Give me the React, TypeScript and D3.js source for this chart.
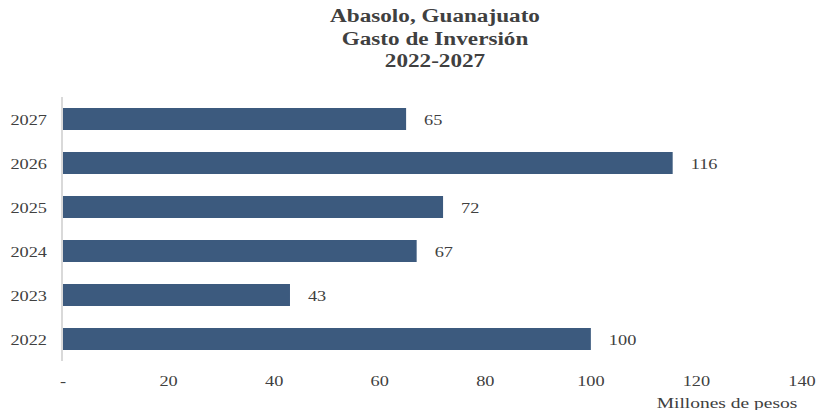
import React from "react";
import * as d3 from "d3";

const years = ["2027", "2026", "2025", "2024", "2023", "2022"];
const values = [65, 115.5, 72, 67, 43, 100];
const valueLabels = ["65", "116", "72", "67", "43", "100"];
const xTicks = [0, 20, 40, 60, 80, 100, 120, 140];
const titleLines = ["Abasolo, Guanajuato", "Gasto de Inversión", "2022-2027"];

const font = "'Liberation Serif', 'Times New Roman', serif";

function T({ x, y, anchor = "start", sx = 1.22, size = 15, bold = false, children }: any) {
  return (
    <text
      transform={`translate(${x},${y}) scale(${sx},1)`}
      textAnchor={anchor}
      fontFamily={font}
      fontWeight={bold ? "bold" : "normal"}
      fontSize={size}
      fill="#404040"
    >
      {children}
    </text>
  );
}

export default function App() {
  const W = 817, H = 410;
  const x = d3.scaleLinear().domain([0, 140]).range([63, 802]);
  const y = d3.scaleBand().domain(years).range([97, 361]).paddingInner(0.5).paddingOuter(0.25);
  return (
    <svg width={W} height={H} style={{ position: "absolute", left: 0, top: 0 }}>
      <rect width={W} height={H} fill="#fff" />
      {titleLines.map((t, i) => (
        <T key={t} x={435} y={22 + i * 22.5} anchor="middle" sx={1.22} size={19} bold>{t}</T>
      ))}
      {years.map((yr, i) => (
        <g key={yr}>
          <rect x={x(0)} y={y(yr)} width={x(values[i]) - x(0)} height={y.bandwidth()} fill="#3c5a7e" />
          <T x={x(values[i]) + 18} y={(y(yr) as number) + y.bandwidth() / 2 + 5.5}>{valueLabels[i]}</T>
          <T x={47} y={(y(yr) as number) + y.bandwidth() / 2 + 5.5} anchor="end">{yr}</T>
        </g>
      ))}
      <line x1={62} x2={62} y1={97} y2={361} stroke="#d9d9d9" strokeWidth={2} />
      {xTicks.map((t) => (
        <T key={t} x={x(t)} y={386} anchor="middle">{t === 0 ? "-" : t}</T>
      ))}
      <T x={727} y={408} anchor="middle" sx={1.3}>Millones de pesos</T>
    </svg>
  );
}
